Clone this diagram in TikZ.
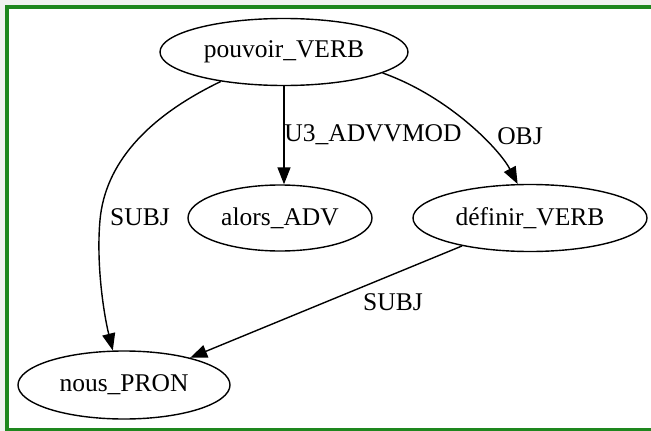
\documentclass[tikz,border=0pt]{standalone}
\usepackage{fontspec}
\setmainfont{Liberation Serif}
\usetikzlibrary{shapes.geometric,arrows.meta}
\definecolor{framegreen}{RGB}{30,135,30}
\definecolor{outgray}{RGB}{240,242,240}
\begin{document}
\begin{tikzpicture}[x=1pt,y=-1pt,
  tok/.style={ellipse,draw,line width=1.4pt,inner sep=0pt,font=\fontsize{25.5}{30}\selectfont},
  lab/.style={font=\fontsize{25.5}{30}\selectfont,inner sep=0pt},
  edge/.style={line width=1.4pt,-{Triangle[length=17pt,width=13pt]}}]
\useasboundingbox (0,0) rectangle (651,431);
\fill[outgray] (0,0) rectangle (651,431);
\fill[white] (7,7) rectangle (651,429.5);
\draw[framegreen,line width=3.5pt] (651,7) -- (7,7) -- (7,429.5) -- (651,429.5);

\node[tok,minimum width=248pt,minimum height=67pt] (pv) at (284,52) {pouvoir\_VERB};
\node[tok,minimum width=184pt,minimum height=66pt] (alors) at (280,218) {alors\_ADV};
\node[tok,minimum width=234pt,minimum height=67pt] (def) at (530,218) {définir\_VERB};
\node[tok,minimum width=212pt,minimum height=68pt] (nous) at (124,385) {nous\_PRON};

\draw[edge] (pv.205) .. controls (145,118) and (105,165) .. (100,220)
  .. controls (96,265) and (104,315) .. (nous.108);
\draw[edge] (pv.south) -- (pv.south |- alors.north);
\draw[edge] (pv.-12) .. controls (450,97) and (500,150) .. (def.110);
\draw[edge] (def) -- (nous);

\node[lab] (l1) at (140,217) {SUBJ};
\node[lab] (l2) at (373,135) {U3\_ADVVMOD};
\node[lab] (l3) at (520,136) {OBJ};
\node[lab] (l4) at (393,302) {SUBJ};
\end{tikzpicture}
\end{document}
